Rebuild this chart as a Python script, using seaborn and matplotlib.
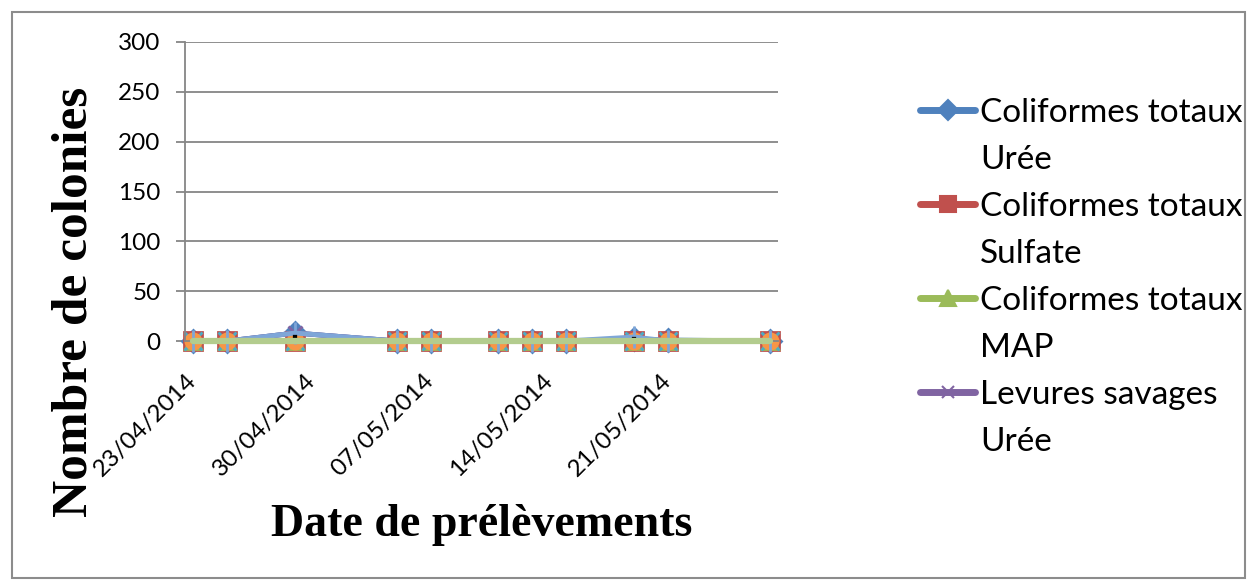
import pandas as pd
import numpy as np
import matplotlib
matplotlib.use('Agg')
import matplotlib.pyplot as plt
import matplotlib.dates as mdates
from matplotlib.lines import Line2D
from matplotlib.patches import Rectangle
import seaborn as sns

# dates de prelevement
dates = ['23/04/2014', '25/04/2014', '29/04/2014', '05/05/2014', '07/05/2014', '11/05/2014',
         '13/05/2014', '15/05/2014', '19/05/2014', '21/05/2014', '27/05/2014']

# nombre de colonies par serie
coli_uree = [0, 0, 8, 0, 0, 0, 0, 0, 2, 1, 0]
coli_sulfate = [0, 0, 0, 0, 0, 0, 0, 0, 0, 0, 0]
coli_map = [0, 0, 0, 0, 0, 0, 0, 0, 0, 0, 0]
lev_uree = [0, 0, 8, 0, 0, 0, 0, 0, 1, 0, 0]
lev_sulfate = [0, 0, 0, 0, 0, 0, 0, 0, 0, 0, 0]
lev_map = [0, 0, 0, 0, 0, 0, 0, 0, 0, 0, 0]
moi_uree = [0, 0, 8, 0, 0, 0, 0, 0, 4, 0, 0]
moi_sulfate = [np.nan, np.nan, 4, np.nan, 0, 0, 0, np.nan, 2, 0, np.nan]
moi_map = [0, 0, 0, 0, 0, 0, 0, 0, 0, 0, 0]

legend_labels = ['Coliformes totaux\nUrée', 'Coliformes totaux\nSulfate',
                 'Coliformes totaux\nMAP', 'Levures savages\nUrée']

x = pd.to_datetime(dates, format='%d/%m/%Y')

# style des series (couleur, marqueur, taille, epaisseur)
series = [
    (coli_uree, '#4F81BD', 'D', 11, 3.5),
    (coli_sulfate, '#C0504D', 's', 12.5, 3.5),
    (coli_map, '#9BBB59', '^', 12, 3.5),
    (lev_uree, '#8064A2', 'x', 10, 3.5),
    (lev_sulfate, '#4BACC6', 'x', 13, 3.5),
    (lev_map, '#F79646', 'o', 11, 3.5),
    (moi_uree, '#7EA6D8', '|', 16, 3.5),
]

sns.set_theme(style='white')
plt.rcParams['font.family'] = ['Lato', 'DejaVu Sans']
plt.rcParams['text.color'] = 'black'
plt.rcParams['xtick.color'] = 'black'
plt.rcParams['ytick.color'] = 'black'

fig = plt.figure(figsize=(12.52, 5.83), dpi=100)
ax = fig.add_axes([185 / 1252, 1 - 341 / 583, 593 / 1252, 299 / 583])

for vals, col, mk, ms, lw in series:
    sns.lineplot(x=x, y=vals, ax=ax, color=col, marker=mk, markersize=ms, lw=lw,
                 markeredgecolor=col, markeredgewidth=2, legend=False, clip_on=False)

sns.scatterplot(x=x, y=moi_sulfate, ax=ax, color='black', marker='s', s=6,
                edgecolor='black', legend=False, zorder=5, clip_on=False)
sns.lineplot(x=x, y=moi_map, ax=ax, color='#B3CC8E', lw=4.5, legend=False, zorder=6, clip_on=False)

ax.set_ylim(0, 300)
ax.set_yticks(range(0, 301, 50))
d0 = x[0]
ax.set_xlim(d0 - pd.Timedelta(hours=12), x[-1] + pd.Timedelta(hours=12))
ax.set_xticks(pd.date_range(d0, periods=5, freq='7D'))
ax.xaxis.set_major_formatter(mdates.DateFormatter('%d/%m/%Y'))

ax.grid(axis='y', color='#868686', lw=1.3)
ax.set_axisbelow(True)
for s in ['top', 'right']:
    ax.spines[s].set_visible(False)
ax.spines['left'].set_color('#868686')
ax.spines['bottom'].set_color('#868686')
ax.spines['left'].set_linewidth(1.3)
ax.spines['bottom'].set_linewidth(1.3)
ax.tick_params(axis='y', length=6.5, width=1.3, color='#868686', pad=11, labelsize=17.5,
               labelcolor='black', left=True)
ax.tick_params(axis='x', length=0, pad=26, labelsize=17.5, labelcolor='black')
for lab in ax.get_xticklabels():
    lab.set_rotation(45)
    lab.set_ha('right')
    lab.set_va('center')
    lab.set_rotation_mode('anchor')
ax.set_xlabel('')
ax.set_ylabel('')

fig.text(75 / 1252, 1 - 302 / 583, 'Nombre de colonies', rotation=90, ha='center', va='center',
         family='Liberation Serif', weight='bold', fontsize=37)
fig.text(482 / 1252, 1 - 525 / 583, 'Date de prélèvements', ha='center', va='center',
         family='Liberation Serif', weight='bold', fontsize=33)

# legende: poignee alignee sur la premiere ligne
handles, labels = [], []
for (vals, col, mk, ms, lw), lab in zip(series[:4], legend_labels):
    first, second = lab.split('\n')
    handles.append(Line2D([], [], color=col, marker=mk, markersize=ms - 1, lw=5,
                          markeredgecolor=col, markeredgewidth=1.5))
    labels.append(first)
    handles.append(Line2D([], [], color='none'))
    labels.append(second)
fig.legend(handles, labels, loc='upper left', bbox_to_anchor=(920 / 1252, 1 - 98 / 583),
           frameon=False, fontsize=24, handlelength=1.65, handletextpad=0.15,
           labelspacing=0.51, borderaxespad=0, borderpad=0)

fig.patches.append(Rectangle((12 / 1252, 1 - 578 / 583), 1233 / 1252, 566 / 583,
                             transform=fig.transFigure, fill=False, edgecolor='#8c8c8c', lw=1.5))

fig.savefig('out.png', dpi=100)
